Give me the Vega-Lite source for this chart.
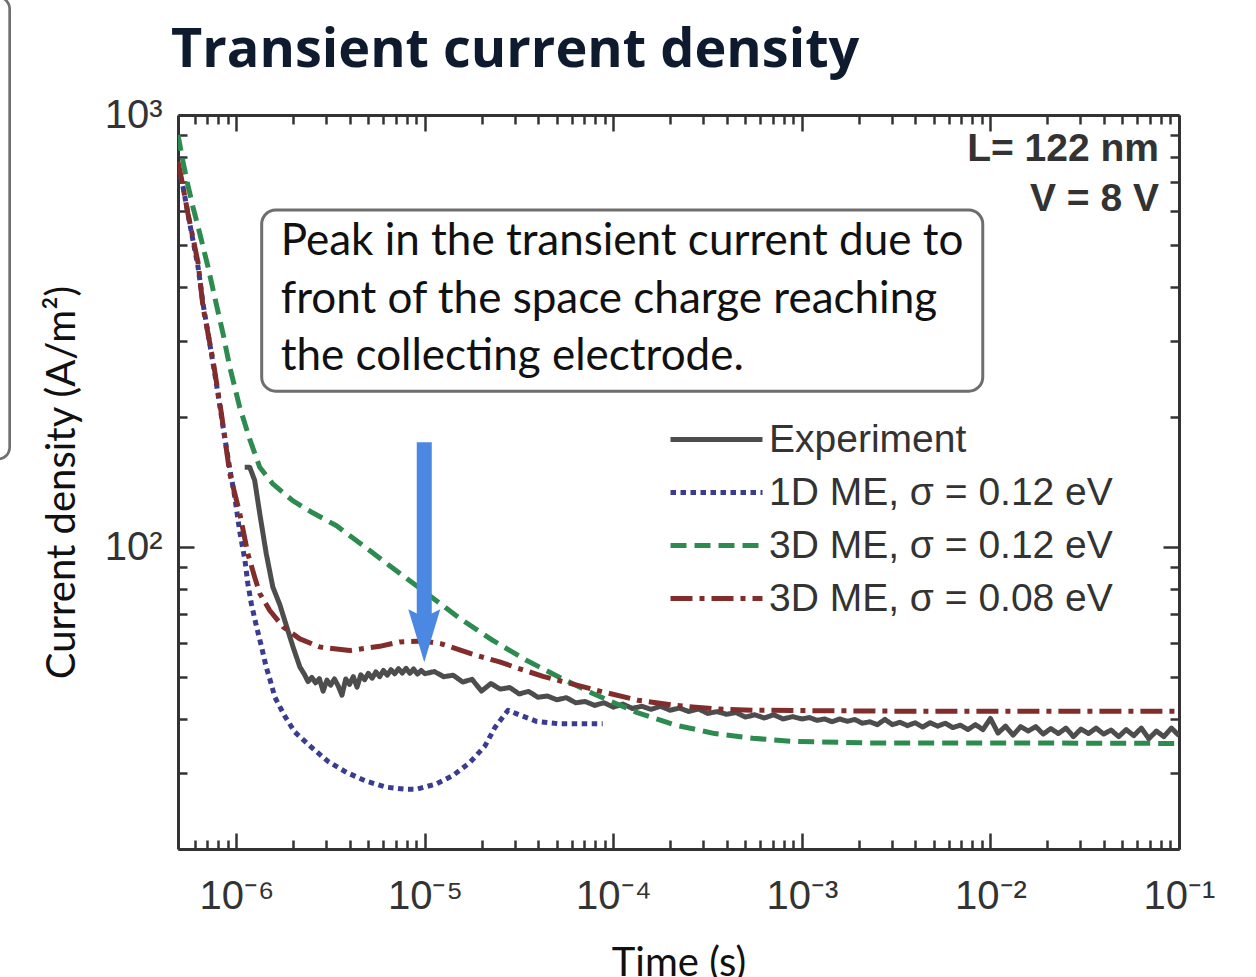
{
 "$schema": "https://vega.github.io/schema/vega-lite/v6.json",
 "width": 1001,
 "height": 734,
 "autosize": {"type": "none"},
 "padding": {"left": 178, "top": 115, "right": 77, "bottom": 128},
 "background": "white",
 "title": {"text": "Transient current density", "anchor": "start", "frame": "group", "font": "Open Sans", "fontSize": 54, "fontWeight": "bold", "color": "#0e1a2e", "baseline": "alphabetic", "offset": -125, "dx": -7},
 "config": {
  "view": {"stroke": null},
  "axis": {"domainColor": "#333333", "domainWidth": 3, "tickColor": "#333333", "tickWidth": 2.5, "labelFont": "Liberation Sans", "labelFontSize": 40, "labelColor": "#333333", "labelFlush": false, "labelOverlap": false, "titleFont": "Lato", "titleFontSize": 40, "titleFontWeight": "normal", "titleColor": "#111111", "grid": false}
 },
 "layer": [
  {
   "data": {"values": [{"t": 1e-9, "t2": 6.27e-8, "j": 1876, "j2": 159.7}]},
   "mark": {"type": "rect", "fill": "white", "fillOpacity": 0, "stroke": "#707070", "strokeWidth": 2.7, "cornerRadius": 12, "clip": false},
   "encoding": {
    "x": {"field": "t", "type": "quantitative", "scale": {"type": "log", "domain": [4.9e-7, 0.1], "nice": false}, "axis": null},
    "x2": {"field": "t2"},
    "y": {"field": "j", "type": "quantitative", "scale": {"type": "log", "domain": [20, 1000], "nice": false}, "axis": null},
    "y2": {"field": "j2"}
   }
  },
  {
   "data": {"values": [{"t": 1.362e-6, "t2": 9.10e-3, "j": 602.6, "j2": 229.5}]},
   "mark": {"type": "rect", "fill": "white", "stroke": "#6e6e6e", "strokeWidth": 3, "cornerRadius": 14},
   "encoding": {
    "x": {"field": "t", "type": "quantitative", "scale": {"type": "log", "domain": [4.9e-7, 0.1], "nice": false},
     "axis": {"orient": "top", "title": null, "labels": false, "values": [6e-7,7e-7,8e-7,9e-7,1e-6,2e-6,3e-6,4e-6,5e-6,6e-6,7e-6,8e-6,9e-6,1e-5,2e-5,3e-5,4e-5,5e-5,6e-5,7e-5,8e-5,9e-5,0.0001,0.0002,0.0003,0.0004,0.0005,0.0006,0.0007,0.0008,0.0009,0.001,0.002,0.003,0.004,0.005,0.006,0.007,0.008,0.009,0.01,0.02,0.03,0.04,0.05,0.06,0.07,0.08,0.09,0.1],
      "tickSize": {"condition": {"test": "abs(log(datum.value)/LN10 - round(log(datum.value)/LN10)) < 0.001", "value": -16}, "value": -9}}},
    "x2": {"field": "t2"},
    "y": {"field": "j", "type": "quantitative", "scale": {"type": "log", "domain": [20, 1000], "nice": false},
     "axis": {"orient": "right", "title": null, "labels": false, "values": [20,30,40,50,60,70,80,90,100,200,300,400,500,600,700,800,900,1000],
      "tickSize": {"condition": {"test": "abs(log(datum.value)/LN10 - round(log(datum.value)/LN10)) < 0.001", "value": -16}, "value": -9}}},
    "y2": {"field": "j2"}
   }
  },
  {
   "data": {"name": "curves", "values": [
    {"s": "Experiment", "t": 1.107e-6, "j": 153}, {"s": "Experiment", "t": 1.177e-6, "j": 153}, {"s": "Experiment", "t": 1.25e-6, "j": 142.7}, {"s": "Experiment", "t": 1.33e-6, "j": 119.5}, {"s": "Experiment", "t": 1.44e-6, "j": 96.5}, {"s": "Experiment", "t": 1.56e-6, "j": 80.8}, {"s": "Experiment", "t": 1.70e-6, "j": 73.5}, {"s": "Experiment", "t": 1.84e-6, "j": 65.8}, {"s": "Experiment", "t": 2.00e-6, "j": 58.6}, {"s": "Experiment", "t": 2.17e-6, "j": 52.8},
    {"s": "Experiment", "t": 2.291e-6, "j": 50.8}, {"s": "Experiment", "t": 2.399e-6, "j": 48.8}, {"s": "Experiment", "t": 2.512e-6, "j": 49.9}, {"s": "Experiment", "t": 2.630e-6, "j": 48.5}, {"s": "Experiment", "t": 2.754e-6, "j": 49.6}, {"s": "Experiment", "t": 2.884e-6, "j": 46.4}, {"s": "Experiment", "t": 3.020e-6, "j": 49.2}, {"s": "Experiment", "t": 3.162e-6, "j": 47.9}, {"s": "Experiment", "t": 3.311e-6, "j": 49.5}, {"s": "Experiment", "t": 3.467e-6, "j": 47.7},
    {"s": "Experiment", "t": 3.631e-6, "j": 45.4}, {"s": "Experiment", "t": 3.802e-6, "j": 49.5}, {"s": "Experiment", "t": 3.981e-6, "j": 48.1}, {"s": "Experiment", "t": 4.169e-6, "j": 50.1}, {"s": "Experiment", "t": 4.365e-6, "j": 47.4}, {"s": "Experiment", "t": 4.571e-6, "j": 50.6}, {"s": "Experiment", "t": 4.786e-6, "j": 49.3}, {"s": "Experiment", "t": 5.012e-6, "j": 51.0}, {"s": "Experiment", "t": 5.248e-6, "j": 49.7}, {"s": "Experiment", "t": 5.495e-6, "j": 51.4},
    {"s": "Experiment", "t": 5.754e-6, "j": 50.1}, {"s": "Experiment", "t": 6.026e-6, "j": 51.8}, {"s": "Experiment", "t": 6.310e-6, "j": 50.5}, {"s": "Experiment", "t": 6.607e-6, "j": 52.0}, {"s": "Experiment", "t": 6.918e-6, "j": 50.9}, {"s": "Experiment", "t": 7.244e-6, "j": 52.3}, {"s": "Experiment", "t": 7.586e-6, "j": 51.1}, {"s": "Experiment", "t": 7.943e-6, "j": 52.4}, {"s": "Experiment", "t": 8.318e-6, "j": 51.0}, {"s": "Experiment", "t": 8.710e-6, "j": 52.2},
    {"s": "Experiment", "t": 9.120e-6, "j": 50.8}, {"s": "Experiment", "t": 9.550e-6, "j": 51.8}, {"s": "Experiment", "t": 1.0e-5, "j": 50.9}, {"s": "Experiment", "t": 1.122e-5, "j": 51.5}, {"s": "Experiment", "t": 1.259e-5, "j": 50.1}, {"s": "Experiment", "t": 1.413e-5, "j": 50.5}, {"s": "Experiment", "t": 1.585e-5, "j": 48.7}, {"s": "Experiment", "t": 1.778e-5, "j": 49.4}, {"s": "Experiment", "t": 1.995e-5, "j": 46.4}, {"s": "Experiment", "t": 2.239e-5, "j": 48.3},
    {"s": "Experiment", "t": 2.512e-5, "j": 46.9}, {"s": "Experiment", "t": 2.818e-5, "j": 47.3}, {"s": "Experiment", "t": 3.162e-5, "j": 45.7}, {"s": "Experiment", "t": 3.548e-5, "j": 46.3}, {"s": "Experiment", "t": 3.981e-5, "j": 44.9}, {"s": "Experiment", "t": 4.467e-5, "j": 45.2}, {"s": "Experiment", "t": 5.012e-5, "j": 44.3}, {"s": "Experiment", "t": 5.623e-5, "j": 44.8}, {"s": "Experiment", "t": 6.310e-5, "j": 43.6}, {"s": "Experiment", "t": 7.079e-5, "j": 43.9},
    {"s": "Experiment", "t": 7.943e-5, "j": 43.0}, {"s": "Experiment", "t": 8.913e-5, "j": 43.6}, {"s": "Experiment", "t": 1.0e-4, "j": 42.6}, {"s": "Experiment", "t": 1.122e-4, "j": 43.3}, {"s": "Experiment", "t": 1.259e-4, "j": 42.3}, {"s": "Experiment", "t": 1.413e-4, "j": 42.8}, {"s": "Experiment", "t": 1.585e-4, "j": 42.1}, {"s": "Experiment", "t": 1.778e-4, "j": 42.8}, {"s": "Experiment", "t": 1.995e-4, "j": 41.9}, {"s": "Experiment", "t": 2.239e-4, "j": 42.4},
    {"s": "Experiment", "t": 2.512e-4, "j": 41.6}, {"s": "Experiment", "t": 2.818e-4, "j": 42.2}, {"s": "Experiment", "t": 3.162e-4, "j": 41.2}, {"s": "Experiment", "t": 3.548e-4, "j": 41.6}, {"s": "Experiment", "t": 3.981e-4, "j": 41.0}, {"s": "Experiment", "t": 4.467e-4, "j": 41.4}, {"s": "Experiment", "t": 5.012e-4, "j": 40.4}, {"s": "Experiment", "t": 5.623e-4, "j": 40.9}, {"s": "Experiment", "t": 6.310e-4, "j": 40.2}, {"s": "Experiment", "t": 7.079e-4, "j": 40.9},
    {"s": "Experiment", "t": 7.943e-4, "j": 40.0}, {"s": "Experiment", "t": 8.913e-4, "j": 40.5}, {"s": "Experiment", "t": 1.0e-3, "j": 40.0}, {"s": "Experiment", "t": 1.096e-3, "j": 40.3}, {"s": "Experiment", "t": 1.202e-3, "j": 39.7}, {"s": "Experiment", "t": 1.318e-3, "j": 40.0}, {"s": "Experiment", "t": 1.445e-3, "j": 39.4}, {"s": "Experiment", "t": 1.585e-3, "j": 40.0}, {"s": "Experiment", "t": 1.738e-3, "j": 39.5}, {"s": "Experiment", "t": 1.905e-3, "j": 39.9},
    {"s": "Experiment", "t": 2.089e-3, "j": 39.1}, {"s": "Experiment", "t": 2.291e-3, "j": 39.4}, {"s": "Experiment", "t": 2.512e-3, "j": 38.8}, {"s": "Experiment", "t": 2.754e-3, "j": 39.9}, {"s": "Experiment", "t": 3.020e-3, "j": 38.8}, {"s": "Experiment", "t": 3.311e-3, "j": 39.3}, {"s": "Experiment", "t": 3.631e-3, "j": 38.6}, {"s": "Experiment", "t": 3.981e-3, "j": 39.2}, {"s": "Experiment", "t": 4.365e-3, "j": 38.3}, {"s": "Experiment", "t": 4.786e-3, "j": 39.2},
    {"s": "Experiment", "t": 5.248e-3, "j": 38.5}, {"s": "Experiment", "t": 5.754e-3, "j": 39.1}, {"s": "Experiment", "t": 6.310e-3, "j": 38.2}, {"s": "Experiment", "t": 6.918e-3, "j": 38.7}, {"s": "Experiment", "t": 7.586e-3, "j": 37.8}, {"s": "Experiment", "t": 8.318e-3, "j": 38.8}, {"s": "Experiment", "t": 9.120e-3, "j": 37.8}, {"s": "Experiment", "t": 1.0e-2, "j": 40.1}, {"s": "Experiment", "t": 1.096e-2, "j": 37.1}, {"s": "Experiment", "t": 1.202e-2, "j": 38.5},
    {"s": "Experiment", "t": 1.318e-2, "j": 36.7}, {"s": "Experiment", "t": 1.445e-2, "j": 38.4}, {"s": "Experiment", "t": 1.585e-2, "j": 37.5}, {"s": "Experiment", "t": 1.738e-2, "j": 38.4}, {"s": "Experiment", "t": 1.905e-2, "j": 36.9}, {"s": "Experiment", "t": 2.089e-2, "j": 38.0}, {"s": "Experiment", "t": 2.291e-2, "j": 37.0}, {"s": "Experiment", "t": 2.512e-2, "j": 38.1}, {"s": "Experiment", "t": 2.754e-2, "j": 36.4}, {"s": "Experiment", "t": 3.020e-2, "j": 37.9},
    {"s": "Experiment", "t": 3.311e-2, "j": 37.0}, {"s": "Experiment", "t": 3.631e-2, "j": 38.1}, {"s": "Experiment", "t": 3.981e-2, "j": 36.9}, {"s": "Experiment", "t": 4.365e-2, "j": 37.7}, {"s": "Experiment", "t": 4.786e-2, "j": 36.4}, {"s": "Experiment", "t": 5.248e-2, "j": 37.8}, {"s": "Experiment", "t": 5.754e-2, "j": 36.6}, {"s": "Experiment", "t": 6.310e-2, "j": 38.1}, {"s": "Experiment", "t": 6.918e-2, "j": 36.0}, {"s": "Experiment", "t": 7.586e-2, "j": 37.5},
    {"s": "Experiment", "t": 8.318e-2, "j": 36.4}, {"s": "Experiment", "t": 9.120e-2, "j": 38.1}, {"s": "Experiment", "t": 0.1, "j": 36.6},

    {"s": "1D ME, σ = 0.12 eV", "t": 4.9e-7, "j": 759}, {"s": "1D ME, σ = 0.12 eV", "t": 5.21e-7, "j": 682}, {"s": "1D ME, σ = 0.12 eV", "t": 5.65e-7, "j": 562}, {"s": "1D ME, σ = 0.12 eV", "t": 6.26e-7, "j": 445}, {"s": "1D ME, σ = 0.12 eV", "t": 6.65e-7, "j": 366}, {"s": "1D ME, σ = 0.12 eV", "t": 7.22e-7, "j": 296}, {"s": "1D ME, σ = 0.12 eV", "t": 7.83e-7, "j": 239}, {"s": "1D ME, σ = 0.12 eV", "t": 8.49e-7, "j": 190}, {"s": "1D ME, σ = 0.12 eV", "t": 9.22e-7, "j": 152}, {"s": "1D ME, σ = 0.12 eV", "t": 9.79e-7, "j": 131},
    {"s": "1D ME, σ = 0.12 eV", "t": 1.04e-6, "j": 109}, {"s": "1D ME, σ = 0.12 eV", "t": 1.11e-6, "j": 93.2}, {"s": "1D ME, σ = 0.12 eV", "t": 1.15e-6, "j": 82.3}, {"s": "1D ME, σ = 0.12 eV", "t": 1.20e-6, "j": 73.9}, {"s": "1D ME, σ = 0.12 eV", "t": 1.28e-6, "j": 65.3}, {"s": "1D ME, σ = 0.12 eV", "t": 1.36e-6, "j": 58.7}, {"s": "1D ME, σ = 0.12 eV", "t": 1.44e-6, "j": 52.7}, {"s": "1D ME, σ = 0.12 eV", "t": 1.50e-6, "j": 49.7}, {"s": "1D ME, σ = 0.12 eV", "t": 1.60e-6, "j": 44.9}, {"s": "1D ME, σ = 0.12 eV", "t": 1.80e-6, "j": 40.7},
    {"s": "1D ME, σ = 0.12 eV", "t": 2.04e-6, "j": 37.3}, {"s": "1D ME, σ = 0.12 eV", "t": 2.50e-6, "j": 34.4}, {"s": "1D ME, σ = 0.12 eV", "t": 3.06e-6, "j": 31.9}, {"s": "1D ME, σ = 0.12 eV", "t": 3.83e-6, "j": 30.1}, {"s": "1D ME, σ = 0.12 eV", "t": 4.89e-6, "j": 28.7}, {"s": "1D ME, σ = 0.12 eV", "t": 6.25e-6, "j": 27.8}, {"s": "1D ME, σ = 0.12 eV", "t": 7.98e-6, "j": 27.5}, {"s": "1D ME, σ = 0.12 eV", "t": 9.02e-6, "j": 27.5}, {"s": "1D ME, σ = 0.12 eV", "t": 1.15e-5, "j": 28.3}, {"s": "1D ME, σ = 0.12 eV", "t": 1.41e-5, "j": 29.6},
    {"s": "1D ME, σ = 0.12 eV", "t": 1.73e-5, "j": 31.7}, {"s": "1D ME, σ = 0.12 eV", "t": 2.08e-5, "j": 34.6}, {"s": "1D ME, σ = 0.12 eV", "t": 2.35e-5, "j": 38.2}, {"s": "1D ME, σ = 0.12 eV", "t": 2.76e-5, "j": 41.9}, {"s": "1D ME, σ = 0.12 eV", "t": 3.12e-5, "j": 41.0}, {"s": "1D ME, σ = 0.12 eV", "t": 3.90e-5, "j": 39.5}, {"s": "1D ME, σ = 0.12 eV", "t": 5.08e-5, "j": 39.0}, {"s": "1D ME, σ = 0.12 eV", "t": 6.63e-5, "j": 39.0}, {"s": "1D ME, σ = 0.12 eV", "t": 8.77e-5, "j": 39.0},

    {"s": "3D ME, σ = 0.12 eV", "t": 4.9e-7, "j": 899}, {"s": "3D ME, σ = 0.12 eV", "t": 5.21e-7, "j": 779}, {"s": "3D ME, σ = 0.12 eV", "t": 5.53e-7, "j": 688}, {"s": "3D ME, σ = 0.12 eV", "t": 5.88e-7, "j": 613}, {"s": "3D ME, σ = 0.12 eV", "t": 6.39e-7, "j": 532}, {"s": "3D ME, σ = 0.12 eV", "t": 7.07e-7, "j": 445}, {"s": "3D ME, σ = 0.12 eV", "t": 7.67e-7, "j": 379}, {"s": "3D ME, σ = 0.12 eV", "t": 8.49e-7, "j": 312}, {"s": "3D ME, σ = 0.12 eV", "t": 9.22e-7, "j": 261}, {"s": "3D ME, σ = 0.12 eV", "t": 1.04e-6, "j": 211},
    {"s": "3D ME, σ = 0.12 eV", "t": 1.18e-6, "j": 177}, {"s": "3D ME, σ = 0.12 eV", "t": 1.33e-6, "j": 153}, {"s": "3D ME, σ = 0.12 eV", "t": 1.56e-6, "j": 140}, {"s": "3D ME, σ = 0.12 eV", "t": 1.99e-6, "j": 128}, {"s": "3D ME, σ = 0.12 eV", "t": 2.54e-6, "j": 120}, {"s": "3D ME, σ = 0.12 eV", "t": 3.40e-6, "j": 112}, {"s": "3D ME, σ = 0.12 eV", "t": 4.6e-6, "j": 101.5}, {"s": "3D ME, σ = 0.12 eV", "t": 6.5e-6, "j": 90.5}, {"s": "3D ME, σ = 0.12 eV", "t": 1.022e-5, "j": 78.1}, {"s": "3D ME, σ = 0.12 eV", "t": 1.53e-5, "j": 68.4},
    {"s": "3D ME, σ = 0.12 eV", "t": 2.29e-5, "j": 60.8}, {"s": "3D ME, σ = 0.12 eV", "t": 3.47e-5, "j": 54.6}, {"s": "3D ME, σ = 0.12 eV", "t": 5.19e-5, "j": 49.9}, {"s": "3D ME, σ = 0.12 eV", "t": 7.77e-5, "j": 45.8}, {"s": "3D ME, σ = 0.12 eV", "t": 1.35e-4, "j": 41.3}, {"s": "3D ME, σ = 0.12 eV", "t": 2.14e-4, "j": 38.7}, {"s": "3D ME, σ = 0.12 eV", "t": 3.45e-4, "j": 37.0}, {"s": "3D ME, σ = 0.12 eV", "t": 5.48e-4, "j": 36.1}, {"s": "3D ME, σ = 0.12 eV", "t": 8.72e-4, "j": 35.5}, {"s": "3D ME, σ = 0.12 eV", "t": 2.23e-3, "j": 35.2},
    {"s": "3D ME, σ = 0.12 eV", "t": 1.43e-2, "j": 35.2}, {"s": "3D ME, σ = 0.12 eV", "t": 0.1, "j": 35.1},

    {"s": "3D ME, σ = 0.08 eV", "t": 4.9e-7, "j": 778}, {"s": "3D ME, σ = 0.08 eV", "t": 5.11e-7, "j": 713}, {"s": "3D ME, σ = 0.08 eV", "t": 5.53e-7, "j": 592}, {"s": "3D ME, σ = 0.08 eV", "t": 6.26e-7, "j": 455}, {"s": "3D ME, σ = 0.08 eV", "t": 6.65e-7, "j": 360}, {"s": "3D ME, σ = 0.08 eV", "t": 7.51e-7, "j": 271}, {"s": "3D ME, σ = 0.08 eV", "t": 8.32e-7, "j": 204}, {"s": "3D ME, σ = 0.08 eV", "t": 9.22e-7, "j": 148}, {"s": "3D ME, σ = 0.08 eV", "t": 1.04e-6, "j": 120}, {"s": "3D ME, σ = 0.08 eV", "t": 1.15e-6, "j": 96.5},
    {"s": "3D ME, σ = 0.08 eV", "t": 1.25e-6, "j": 85.2}, {"s": "3D ME, σ = 0.08 eV", "t": 1.33e-6, "j": 78.1}, {"s": "3D ME, σ = 0.08 eV", "t": 1.50e-6, "j": 71.4}, {"s": "3D ME, σ = 0.08 eV", "t": 1.77e-6, "j": 65.3}, {"s": "3D ME, σ = 0.08 eV", "t": 2.17e-6, "j": 61.3}, {"s": "3D ME, σ = 0.08 eV", "t": 2.77e-6, "j": 58.7}, {"s": "3D ME, σ = 0.08 eV", "t": 3.99e-6, "j": 57.6}, {"s": "3D ME, σ = 0.08 eV", "t": 5.76e-6, "j": 58.9}, {"s": "3D ME, σ = 0.08 eV", "t": 7.35e-6, "j": 60.3}, {"s": "3D ME, σ = 0.08 eV", "t": 9.77e-6, "j": 60.6},
    {"s": "3D ME, σ = 0.08 eV", "t": 1.22e-5, "j": 59.7}, {"s": "3D ME, σ = 0.08 eV", "t": 1.88e-5, "j": 56.1}, {"s": "3D ME, σ = 0.08 eV", "t": 2.49e-5, "j": 54.2}, {"s": "3D ME, σ = 0.08 eV", "t": 3.25e-5, "j": 52.1}, {"s": "3D ME, σ = 0.08 eV", "t": 4.23e-5, "j": 50.2}, {"s": "3D ME, σ = 0.08 eV", "t": 5.30e-5, "j": 48.9}, {"s": "3D ME, σ = 0.08 eV", "t": 8.46e-5, "j": 46.4}, {"s": "3D ME, σ = 0.08 eV", "t": 1.35e-4, "j": 44.2}, {"s": "3D ME, σ = 0.08 eV", "t": 2.14e-4, "j": 43.0}, {"s": "3D ME, σ = 0.08 eV", "t": 3.45e-4, "j": 42.2},
    {"s": "3D ME, σ = 0.08 eV", "t": 5.48e-4, "j": 41.9}, {"s": "3D ME, σ = 0.08 eV", "t": 2.92e-3, "j": 41.7}, {"s": "3D ME, σ = 0.08 eV", "t": 0.1, "j": 41.7}
   ]},
   "mark": {"type": "line", "strokeWidth": 5, "strokeJoin": "round", "clip": true},
   "encoding": {
    "x": {"field": "t", "type": "quantitative", "scale": {"type": "log", "domain": [4.9e-7, 0.1], "nice": false},
     "axis": {"orient": "bottom", "title": "Time (s)", "titlePadding": 20, "labelPadding": 43,
      "values": [6e-7,7e-7,8e-7,9e-7,1e-6,2e-6,3e-6,4e-6,5e-6,6e-6,7e-6,8e-6,9e-6,1e-5,2e-5,3e-5,4e-5,5e-5,6e-5,7e-5,8e-5,9e-5,0.0001,0.0002,0.0003,0.0004,0.0005,0.0006,0.0007,0.0008,0.0009,0.001,0.002,0.003,0.004,0.005,0.006,0.007,0.008,0.009,0.01,0.02,0.03,0.04,0.05,0.06,0.07,0.08,0.09,0.1],
      "labelExpr": "abs(log(datum.value)/LN10 - round(log(datum.value)/LN10)) < 0.001 ? '10' + ['⁻⁶','⁻⁵','⁻⁴','⁻³','⁻²','⁻¹'][round(log(datum.value)/LN10) + 6] : ''",
      "tickSize": {"condition": {"test": "abs(log(datum.value)/LN10 - round(log(datum.value)/LN10)) < 0.001", "value": -16}, "value": -9}}},
    "y": {"field": "j", "type": "quantitative", "scale": {"type": "log", "domain": [20, 1000], "nice": false},
     "axis": {"orient": "left", "title": "Current density (A/m²)", "titlePadding": 22, "labelPadding": 32,
      "values": [20,30,40,50,60,70,80,90,100,200,300,400,500,600,700,800,900,1000],
      "labelExpr": "abs(log(datum.value)/LN10 - round(log(datum.value)/LN10)) < 0.001 ? '10' + ['²','³'][round(log(datum.value)/LN10) - 2] : ''",
      "tickSize": {"condition": {"test": "abs(log(datum.value)/LN10 - round(log(datum.value)/LN10)) < 0.001", "value": -16}, "value": -9}}},
    "color": {"field": "s", "type": "nominal",
     "scale": {"domain": ["Experiment", "1D ME, σ = 0.12 eV", "3D ME, σ = 0.12 eV", "3D ME, σ = 0.08 eV"], "range": ["#4d4d4d", "#3a3d8f", "#2e8b50", "#822c2c"]},
     "legend": {"orient": "none", "legendX": 490, "legendY": 298, "title": null, "symbolType": "stroke", "symbolSize": 8464, "symbolStrokeWidth": 5, "labelFont": "Liberation Sans", "labelFontSize": 39, "labelColor": "#333333", "labelOffset": 4, "clipHeight": 53, "rowPadding": 0, "padding": 0, "labelLimit": 600}},
    "strokeDash": {"field": "s", "type": "nominal",
     "scale": {"domain": ["Experiment", "1D ME, σ = 0.12 eV", "3D ME, σ = 0.12 eV", "3D ME, σ = 0.08 eV"], "range": [[1, 0], [5.5, 4.5], [16, 8], [22, 7, 5, 7]]},
     "legend": {"orient": "none", "legendX": 490, "legendY": 298, "title": null, "symbolType": "stroke", "symbolSize": 8464, "symbolStrokeWidth": 5, "labelFont": "Liberation Sans", "labelFontSize": 39, "labelColor": "#333333", "labelOffset": 4, "clipHeight": 53, "rowPadding": 0, "padding": 0, "labelLimit": 600}}
   }
  },
  {
   "data": {"values": [
    {"t": 1.718e-6, "j": 474, "label": "Peak in the transient current due to"},
    {"t": 1.718e-6, "j": 347.3, "label": "front of the space charge reaching"},
    {"t": 1.718e-6, "j": 256.7, "label": "the collecting electrode."}
   ]},
   "mark": {"type": "text", "align": "left", "baseline": "alphabetic", "font": "Lato", "fontSize": 44, "color": "#111111"},
   "encoding": {
    "x": {"field": "t", "type": "quantitative", "scale": {"type": "log", "domain": [4.9e-7, 0.1], "nice": false}, "axis": null},
    "y": {"field": "j", "type": "quantitative", "scale": {"type": "log", "domain": [20, 1000], "nice": false}, "axis": null},
    "text": {"field": "label"}
   }
  },
  {
   "data": {"values": [
    {"t": 0.0783, "j": 782, "label": "L= 122 nm"},
    {"t": 0.0783, "j": 598, "label": "V = 8 V"}
   ]},
   "mark": {"type": "text", "align": "right", "baseline": "alphabetic", "font": "Liberation Sans", "fontSize": 39, "fontWeight": "bold", "color": "#333333"},
   "encoding": {
    "x": {"field": "t", "type": "quantitative", "scale": {"type": "log", "domain": [4.9e-7, 0.1], "nice": false}, "axis": null},
    "y": {"field": "j", "type": "quantitative", "scale": {"type": "log", "domain": [20, 1000], "nice": false}, "axis": null},
    "text": {"field": "label"}
   }
  },
  {
   "data": {"values": [{"t": 9.92e-6, "j": 174.8, "j2": 68.7}]},
   "mark": {"type": "rule", "color": "#4a88e2", "strokeWidth": 15, "strokeCap": "butt"},
   "encoding": {
    "x": {"field": "t", "type": "quantitative", "scale": {"type": "log", "domain": [4.9e-7, 0.1], "nice": false}, "axis": null},
    "y": {"field": "j", "type": "quantitative", "scale": {"type": "log", "domain": [20, 1000], "nice": false}, "axis": null},
    "y2": {"field": "j2"}
   }
  },
  {
   "data": {"values": [{"t": 9.92e-6, "j": 62.3}]},
   "mark": {"type": "point", "shape": "M-0.604,-1L0,-0.7L0.604,-1L0,1Z", "size": 2809, "filled": true, "color": "#4a88e2", "opacity": 1, "strokeWidth": 0},
   "encoding": {
    "x": {"field": "t", "type": "quantitative", "scale": {"type": "log", "domain": [4.9e-7, 0.1], "nice": false}, "axis": null},
    "y": {"field": "j", "type": "quantitative", "scale": {"type": "log", "domain": [20, 1000], "nice": false}, "axis": null}
   }
  }
 ],
 "resolve": {"axis": {"x": "independent", "y": "independent"}}
}
